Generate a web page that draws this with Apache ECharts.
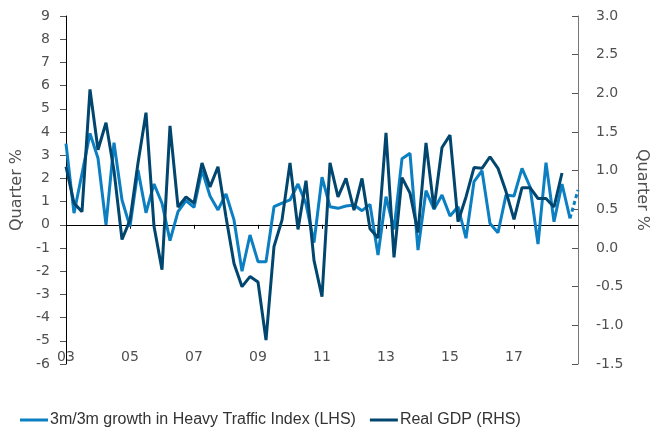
<!DOCTYPE html>
<html>
<head>
<meta charset="utf-8">
<script src="https://cdn.jsdelivr.net/npm/echarts@6/dist/echarts.min.js"></script>
<style>
  html, body { margin: 0; padding: 0; background: #fff; }
  #chart { width: 651px; height: 430px; }
</style>
</head>
<body>
<div id="chart"></div>
<script>
// quarterly data, 2003Q1 .. 2019Q1
const quarters = [];
for (let y = 2003; y <= 2019; y++) {
    for (let q = 1; q <= 4; q++) {
        if (y === 2019 && q > 1) break;
        quarters.push(y + 'Q' + q);
    }
}

// 3m/3m growth in Heavy Traffic Index, % (left axis)
const trafficValues = [
    3.5, 0.5, 2.2, 3.94, 2.87, 0.0, 3.54, 1.07, -0.08, 2.36, 0.52, 1.76, 0.93,
    -0.68, 0.57, 1.04, 0.75, 2.36, 1.24, 0.64, 1.33, 0.21, -2.0, -0.44, -1.59,
    -1.59, 0.78, 0.93, 1.07, 1.76, 0.9, -0.77, 2.05, 0.78, 0.71, 0.81, 0.85,
    0.61, 0.88, -1.3, 1.21, -0.2, 2.85, 3.08, -1.09, 1.47, 0.67, 1.28, 0.38,
    0.78, -0.58, 1.86, 2.33, 0.06, -0.34, 1.28, 1.24, 2.43, 1.64, -0.83, 2.68,
    0.13, 1.76, 0.28
];
// latest (incomplete) reading, drawn dashed
const trafficLatest = 1.5;

// Real GDP q/q, % (right axis)
const gdpValues = [
    1.05, 0.58, 0.47, 2.05, 1.27, 1.62, 1.0, 0.11, 0.36, 1.1, 1.75, 0.28, -0.28,
    1.58, 0.53, 0.66, 0.58, 1.1, 0.79, 1.05, 0.4, -0.2, -0.5, -0.37, -0.44,
    -1.19, 0.02, 0.36, 1.1, 0.24, 0.87, -0.16, -0.63, 1.1, 0.66, 0.9, 0.49,
    0.9, 0.25, 0.13, 1.49, -0.12, 0.91, 0.71, 0.2, 1.36, 0.51, 1.3, 1.46, 0.34,
    0.66, 1.04, 1.03, 1.18, 1.03, 0.73, 0.37, 0.78, 0.78, 0.64, 0.64, 0.53, 0.97
];

const LIGHT = '#0b7fc1';
const DARK = '#00466e';
const FONT = 'Liberation Sans';
const TICK_FONT = 'DejaVu Sans';
const TEXT = '#505050';

// dashed tail: last full point + latest reading
const trafficTail = quarters.map((_, i) => {
    if (i === trafficValues.length - 1) return trafficValues[i];
    if (i === trafficValues.length) return trafficLatest;
    return null;
});

const showYear = (idx) => idx % 8 === 0 && idx < quarters.length - 1;

const chart = echarts.init(document.getElementById('chart'), null, { renderer: 'canvas' });

chart.setOption({
    animation: false,
    backgroundColor: '#fff',
    textStyle: { fontFamily: FONT },
    grid: { left: 66, right: 73, top: 16, bottom: 66, outerBoundsMode: 'none', containLabel: false },
    legend: {
        left: 15,
        top: 407,
        icon: 'rect',
        itemWidth: 28,
        itemHeight: 3,
        itemGap: 14,
        textStyle: { color: '#333', fontSize: 16, fontFamily: FONT, padding: [0, 0, 0, -3] },
        data: ['3m/3m growth in Heavy Traffic Index (LHS)', 'Real GDP (RHS)']
    },
    xAxis: [
        {
            // zero line with ticks
            type: 'category',
            data: quarters,
            boundaryGap: false,
            axisLine: { onZero: true, onZeroAxisIndex: 0, lineStyle: { color: '#000', width: 1 } },
            axisTick: { show: true, length: 4, interval: (idx) => showYear(idx), lineStyle: { color: '#000' } },
            axisLabel: { show: false },
            splitLine: { show: false }
        },
        {
            // year labels along the bottom
            type: 'category',
            data: quarters,
            boundaryGap: false,
            position: 'bottom',
            axisLine: { show: false, onZero: false },
            axisTick: { show: false },
            axisLabel: {
                interval: (idx) => showYear(idx),
                formatter: (v) => v.slice(2, 4),
                color: TEXT,
                fontFamily: TICK_FONT,
                fontSize: 14,
                margin: -14
            },
            splitLine: { show: false }
        }
    ],
    yAxis: [
        {
            type: 'value',
            min: -6,
            max: 9,
            interval: 1,
            position: 'left',
            name: 'Quarter %',
            nameLocation: 'middle',
            nameRotate: 90,
            nameGap: 39,
            nameTextStyle: { color: TEXT, fontSize: 16, fontFamily: TICK_FONT },
            axisLine: { show: true, lineStyle: { color: '#000' } },
            axisTick: { show: true, length: 6, lineStyle: { color: '#555' } },
            axisLabel: { color: TEXT, fontSize: 14, fontFamily: TICK_FONT, margin: 16 },
            splitLine: { show: false }
        },
        {
            type: 'value',
            min: -1.5,
            max: 3,
            interval: 0.5,
            position: 'right',
            name: 'Quarter %',
            nameLocation: 'middle',
            nameRotate: -90,
            nameGap: 56,
            nameTextStyle: { color: TEXT, fontSize: 16, fontFamily: TICK_FONT },
            axisLine: { show: true, lineStyle: { color: '#777' } },
            axisTick: { show: true, inside: true, length: 6, lineStyle: { color: '#555' } },
            axisLabel: { color: TEXT, fontSize: 14, fontFamily: TICK_FONT, margin: 18, formatter: (v) => v.toFixed(1) },
            splitLine: { show: false }
        }
    ],
    series: [
        {
            name: '3m/3m growth in Heavy Traffic Index (LHS)',
            type: 'line',
            xAxisIndex: 0,
            yAxisIndex: 0,
            data: trafficValues,
            showSymbol: false,
            lineStyle: { color: LIGHT, width: 3 },
            itemStyle: { color: LIGHT },
            z: 2
        },
        {
            name: 'traffic latest',
            type: 'line',
            xAxisIndex: 0,
            yAxisIndex: 0,
            data: trafficTail,
            showSymbol: false,
            connectNulls: false,
            lineStyle: { color: LIGHT, width: 3, type: [4, 3] },
            itemStyle: { color: LIGHT },
            z: 2
        },
        {
            name: 'Real GDP (RHS)',
            type: 'line',
            xAxisIndex: 0,
            yAxisIndex: 1,
            data: gdpValues,
            showSymbol: false,
            lineStyle: { color: DARK, width: 3 },
            itemStyle: { color: DARK },
            z: 3
        }
    ]
});
</script>
</body>
</html>
